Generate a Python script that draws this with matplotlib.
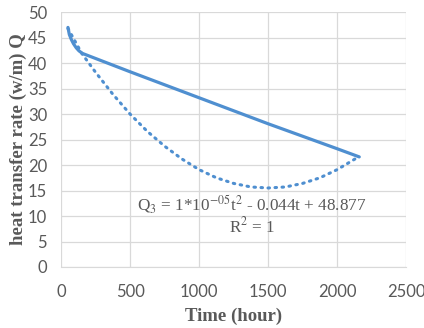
import numpy as np
import matplotlib
matplotlib.use("Agg")
import matplotlib.pyplot as plt

# measured heat transfer rate
time_h = [50, 60, 75, 90, 110, 130, 155, 500, 1000, 1500, 2000, 2160]
q_meas = [47.0, 45.6, 44.6, 43.8, 43.0, 42.4, 41.9, 38.3, 33.2, 28.1, 23.2, 21.6]

# polynomial trend line (dotted)
trend_t = [50, 150, 250, 375, 500, 625, 750, 875, 1000, 1125, 1250, 1375,
           1500, 1625, 1750, 1875, 2000, 2130]
trend_q = [46.8, 41.9, 38.2, 33.9, 30.0, 26.6, 23.7, 21.2, 19.1, 17.5, 16.4, 15.7,
           15.5, 15.7, 16.4, 17.5, 19.1, 21.2]

xticks = [0, 500, 1000, 1500, 2000, 2500]
yticks = [0, 5, 10, 15, 20, 25, 30, 35, 40, 45, 50]

blue = "#4f8fd0"
grey = "#595959"

plt.rcParams['mathtext.fontset'] = 'stix'

fig = plt.figure(figsize=(4.24, 3.28), dpi=100)
ax = fig.add_axes([0.144, 0.186, 0.814, 0.777])

ax.plot(time_h, q_meas, color=blue, lw=2.3, solid_capstyle='round')
ax.plot(trend_t, trend_q, color=blue, lw=2.2, linestyle=(0, (0.5, 1.8)),
        dash_capstyle='round')

ax.set_xlim(0, 2500)
ax.set_ylim(0, 50)
ax.set_xticks(xticks)
ax.set_yticks(yticks)
ax.grid(True, color="#d9d9d9", lw=0.9)
ax.set_axisbelow(True)
for s in ['top', 'right', 'left']:
    ax.spines[s].set_visible(False)
ax.spines['bottom'].set_color("#d9d9d9")
ax.tick_params(length=0, labelsize=12, labelcolor=grey, pad=10)
ax.tick_params(axis='x', pad=12)
for lab in ax.get_xticklabels() + ax.get_yticklabels():
    lab.set_family('Lato')

ax.set_xlabel("Time (hour)", family='Liberation Serif', fontweight='bold',
              fontsize=13.5, color=grey, labelpad=6)
ax.set_ylabel("heat transfer rate (w/m) Q", family='Liberation Serif',
              fontweight='bold', fontsize=13.5, color=grey, labelpad=1)

ax.text(1384, 12.4, r"Q$_3$ = 1*10$^{-05}$t$^2$ - 0.044t + 48.877",
        family='Liberation Serif', fontsize=12.3, color=grey,
        ha='center', va='center')
ax.text(1384, 7.9, r"R$^2$ = 1", family='Liberation Serif', fontsize=12.3,
        color=grey, ha='center', va='center')

fig.savefig("out.png", dpi=100)
